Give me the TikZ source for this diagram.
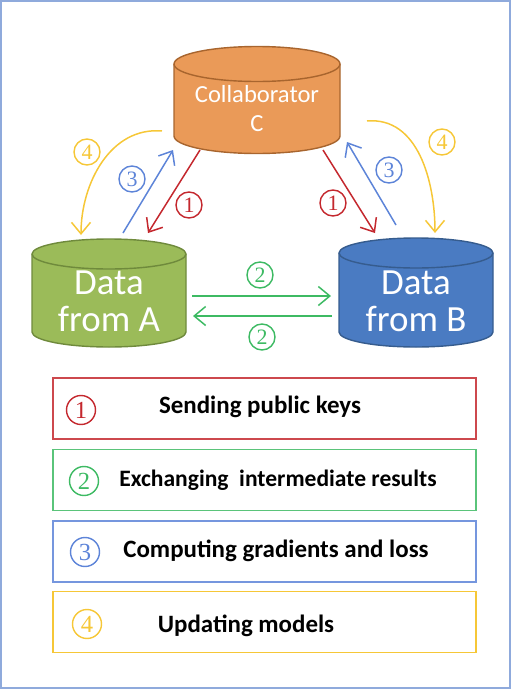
\documentclass[tikz,border=0pt]{standalone}
\usepackage{fontspec}
\usepackage{tikz}
\usetikzlibrary{positioning,calc,arrows.meta}
\newfontfamily\calibri{Carlito}
\newfontfamily\digitfont{Liberation Serif}

\definecolor{frameblue}{HTML}{8FAADC}
\definecolor{collfill}{HTML}{EA9A58}
\definecolor{colldraw}{HTML}{A8652E}
\definecolor{afill}{HTML}{9BBB59}
\definecolor{adraw}{HTML}{6F8A3C}
\definecolor{bfill}{HTML}{4A7BC2}
\definecolor{bdraw}{HTML}{365C8E}
\definecolor{stepred}{HTML}{C4282E}
\definecolor{stepgreen}{HTML}{3DBA63}
\definecolor{stepblue}{HTML}{5D84D8}
\definecolor{stepyellow}{HTML}{F6C737}

\begin{document}
\begin{tikzpicture}[
    x=0.02cm, y=0.02cm,
    dbline/.style={line width=0.8pt},
    dbtext/.style={text=white, align=center},
    arrow/.style={-{Straight Barb[length=2.3mm,width=3.8mm]}, line width=0.85pt},
    num/.style={circle, draw, line width=0.8pt, inner sep=0pt, minimum size=0.52cm, font=\digitfont\fontsize{12.5}{12.5}\selectfont},
    keybox/.style={draw, line width=1pt, minimum width=8.46cm, minimum height=1.22cm},
    keytext/.style={font=\calibri\bfseries\fontsize{14.2}{15}\selectfont}
  ]
    \useasboundingbox (0,0) rectangle (512,-690);
    \draw[frameblue, line width=0.9pt] (1,-1) rectangle (510,-688);

    % cylinders
    \filldraw[dbline, fill=collfill, draw=colldraw] (174,-64) -- (174,-136)
      arc[start angle=180, end angle=360, x radius=83, y radius=17.5] -- (340,-64)
      arc[start angle=0, end angle=180, x radius=83, y radius=17.5] -- cycle;
    \draw[dbline, colldraw] (174,-64) arc[start angle=180, end angle=360, x radius=83, y radius=17.5];
    \filldraw[dbline, fill=afill, draw=adraw] (32,-254) -- (32,-332)
      arc[start angle=180, end angle=360, x radius=77, y radius=15] -- (186,-254)
      arc[start angle=0, end angle=180, x radius=77, y radius=15] -- cycle;
    \draw[dbline, adraw] (32,-254) arc[start angle=180, end angle=360, x radius=77, y radius=15];
    \filldraw[dbline, fill=bfill, draw=bdraw] (339,-253) -- (339,-332)
      arc[start angle=180, end angle=360, x radius=77, y radius=15] -- (493,-253)
      arc[start angle=0, end angle=180, x radius=77, y radius=15] -- cycle;
    \draw[dbline, bdraw] (339,-253) arc[start angle=180, end angle=360, x radius=77, y radius=15];

    % parties
    \node[dbtext, font=\calibri\fontsize{14}{16.5}\selectfont] (coll) at (257,-108.5) {Collaborator\\C};
    \node[dbtext, font=\calibri\fontsize{21}{21}\selectfont] (dataA) at (109,-301.5) {Data\\from A};
    \node[dbtext, font=\calibri\fontsize{21}{21}\selectfont] (dataB) at (416,-301.5) {Data\\from B};

    % step 1: public keys
    \draw[arrow, stepred] ($(coll.center)+(-57,-41.5)$) -- ($(dataA.center)+(39,68.5)$);
    \draw[arrow, stepred] ($(coll.center)+(66,-41.5)$) -- ($(dataB.center)+(-41,68.5)$);
    % step 3: gradients and loss
    \draw[arrow, stepblue] ($(dataA.center)+(14,68.5)$) -- ($(coll.center)+(-84,-41.5)$);
    \draw[arrow, stepblue] ($(dataB.center)+(-20,76.5)$) -- ($(coll.center)+(90,-33.5)$);
    % step 4: model updates
    \draw[arrow, stepyellow] ($(coll.center)+(-95,-22.5)$) to[out=175, in=90] ($(dataA.center)+(-28,66.5)$);
    \draw[arrow, stepyellow] ($(coll.center)+(110,-12.5)$) to[out=5, in=90] ($(dataB.center)+(19,68.5)$);
    % step 2: exchange
    \draw[arrow, stepgreen] ($(dataA.center)+(83,5.5)$) -- ($(dataB.center)+(-85,5.5)$);
    \draw[arrow, stepgreen] ($(dataB.center)+(-84,-14.5)$) -- ($(dataA.center)+(84,-14.5)$);

    \node[num, stepred] (n1a) at (189,-205) {1};
    \node[num, stepred] (n1b) at (333,-203) {1};
    \node[num, stepblue] (n3a) at (132,-179) {3};
    \node[num, stepblue] (n3b) at (389,-170) {3};
    \node[num, stepyellow] (n4a) at (87,-152) {4};
    \node[num, stepyellow] (n4b) at (442,-142) {4};
    \node[num, stepgreen] (n2a) at (260,-275) {2};
    \node[num, stepgreen] (n2b) at (262,-337) {2};

    % legend
    \node[keybox, draw=stepred!85] (key1) at (264.5,-408.5) {};
    \node[keybox, draw=stepgreen!85] (key2) at (264.5,-480) {};
    \node[keybox, draw=stepblue!85] (key3) at (264.5,-551.5) {};
    \node[keybox, draw=stepyellow] (key4) at (264.5,-622) {};

    \node[num, stepred, minimum size=0.58cm, font=\digitfont\fontsize{14}{14}\selectfont] (k1) at (81,-410) {1};
    \node[num, stepgreen, minimum size=0.58cm, font=\digitfont\fontsize{14}{14}\selectfont] (k2) at (84,-481) {2};
    \node[num, stepblue, minimum size=0.58cm, font=\digitfont\fontsize{14}{14}\selectfont] (k3) at (85,-552) {3};
    \node[num, stepyellow, minimum size=0.58cm, font=\digitfont\fontsize{14}{14}\selectfont] (k4) at (87,-624) {4};

    \node[keytext] (t1) at (260,-407) {Sending public keys};
    \node[keytext, font=\calibri\bfseries\fontsize{13.4}{15}\selectfont] (t2) at (278,-480) {Exchanging\ \ intermediate results};
    \node[keytext] (t3) at (276,-551) {Computing gradients and loss};
    \node[keytext] (t4) at (246,-626) {Updating models};
  \end{tikzpicture}
\end{document}
